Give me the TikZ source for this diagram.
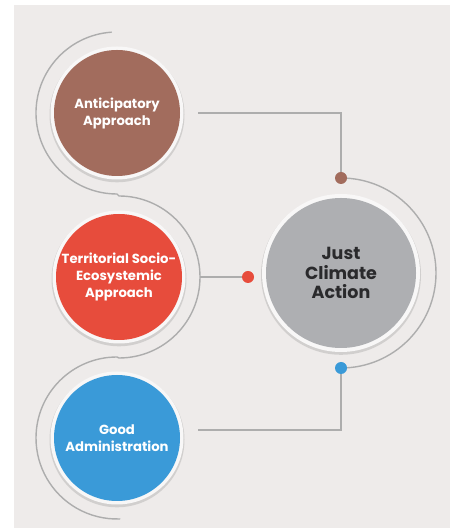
\documentclass[tikz,border=0pt]{standalone}
\usepackage{fontspec}
\setmainfont{Poppins}
\usetikzlibrary{calc}
\definecolor{panel}{HTML}{EEEBEA}
\definecolor{antc}{HTML}{A26C5D}
\definecolor{terc}{HTML}{E74C3C}
\definecolor{admc}{HTML}{3A9AD8}
\definecolor{hubc}{HTML}{AEAFB2}
\definecolor{linec}{HTML}{ADADAD}
\definecolor{rimc}{HTML}{F8F7F7}
\definecolor{shadc}{HTML}{C6C4C3}
\definecolor{hubtext}{HTML}{2A2A2C}
\pgfdeclarelayer{bg}
\pgfsetlayers{bg,main}
\tikzset{
  topic/.style={circle, inner sep=0pt, minimum size=126pt, text=white,
    font=\bfseries\fontsize{13.2}{17}\selectfont, align=center},
  hub/.style={circle, inner sep=0pt, minimum size=150pt, fill=hubc, text=hubtext,
    font=\bfseries\fontsize{17.5}{19.5}\selectfont, align=center},
  link/.style={draw=linec, line width=1.8pt},
  guide/.style={draw=linec, line width=1.4pt, line cap=round},
  pin/.style={circle, inner sep=0pt, minimum size=12pt},
}
\begin{document}
\begin{tikzpicture}[x=1pt,y=1pt]
\useasboundingbox (0,0) rectangle (450,529);
% centres of the four discs
\coordinate (pA) at (117,416);
\coordinate (pT) at (119,252);
\coordinate (pG) at (117,91);
\coordinate (pH) at (341,256);
\begin{pgfonlayer}{bg}
  \fill[white] (0,0) rectangle (450,529);
  \fill[panel] (14,1) rectangle (450,524);
  % soft shadow and light rim behind each disc
  \foreach \p/\ra/\rb in {pA/66.5/67.5, pT/66.5/67.5, pG/66.5/67.5, pH/79/80}{
    \fill[shadc, opacity=0.7] ($(\p)+(0,-1.8)$) circle[radius=\rb pt];
    \fill[rimc] (\p) circle[radius=\ra pt];
  }
\end{pgfonlayer}
% discs
\node[topic, fill=antc] (ant) at (pA) {Anticipatory\\Approach};
\node[topic, fill=terc] (ter) at (pT) {Territorial Socio-\\Ecosystemic\\Approach};
\node[topic, fill=admc] (adm) at (pG) {Good\\Administration};
\node[hub] (hub) at (pH) {Just\\Climate\\Action};
% junction dots
\node[pin, fill=antc] (dA) at ($(hub.center)+(90:95)$) {};
\node[pin, fill=terc] (dT) at (248,252) {};
\node[pin, fill=admc] (dG) at ($(hub.center)+(-90:95)$) {};
% connector start points
\coordinate (sA) at ($(ant.center)+(81,0)$);
\coordinate (sT) at ($(ter.center)+(81,0)$);
\coordinate (sG) at ($(adm.center)+(81,8)$);
\begin{pgfonlayer}{bg}
  \draw[link] (sA) -| (dA.center);
  \draw[link] (sT) -- (dT.center);
  \draw[link] (sG) -| (dG.center);
  % half ring around the hub
  \draw[guide] (dA.center) arc[start angle=90, end angle=-90, radius=95pt];
  % winding line along the left column
  \draw[guide] ($(pA)+(94:81)$) arc[start angle=94, end angle=270, radius=81pt]
    -- ($(pT)+(90:81)$) arc[start angle=90, end angle=-90, radius=81pt]
    -- ($(pG)+(90:81)$) arc[start angle=90, end angle=272, radius=81pt];
\end{pgfonlayer}
\end{tikzpicture}
\end{document}
